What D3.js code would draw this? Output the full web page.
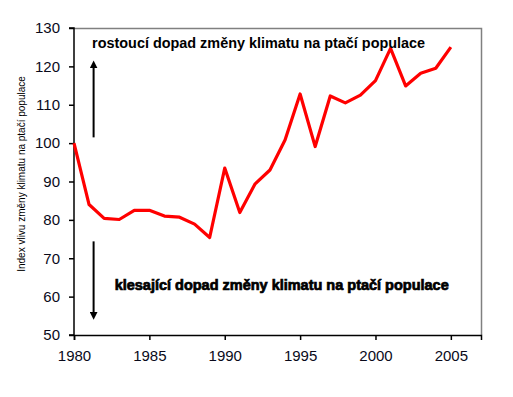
<!DOCTYPE html>
<html>
<head>
<meta charset="utf-8">
<script src="https://cdn.jsdelivr.net/npm/d3@7"></script>
<style>
body{margin:0;background:#fff;}
text{font-family:"Liberation Sans",Arial,sans-serif;}
</style>
</head>
<body>
<svg width="513" height="397"></svg>
<script>
// data
var years = [1980,1981,1982,1983,1984,1985,1986,1987,1988,1989,1990,1991,1992,1993,1994,1995,1996,1997,1998,1999,2000,2001,2002,2003,2004,2005];
var index = [100,84,80.4,80.1,82.5,82.5,81,80.7,78.9,75.4,93.5,81.9,89.3,93,100.8,112.8,99.1,112.3,110.5,112.5,116.3,124.7,114.9,118.2,119.5,125];
var xticks = [1980,1985,1990,1995,2000,2005];
var yticks = [50,60,70,80,90,100,110,120,130];
var upLabel = 'rostoucí dopad změny klimatu na ptačí populace';
var downLabel = 'klesající dopad změny klimatu na ptačí populace';
var yTitle = 'Index vlivu změny klimatu na ptačí populace';

var svg = d3.select('svg');
var margin = {left:74,top:28,right:32,bottom:62};
var width = +svg.attr('width'), height = +svg.attr('height');
var innerwidth = width - margin.left - margin.right;
var innerheight = height - margin.top - margin.bottom;

var xscale = d3.scaleLinear().domain([1980,2007]).range([0,innerwidth]);
var yscale = d3.scaleLinear().domain([50,130]).range([innerheight,0]);

var defs = svg.append('defs');
defs.append('marker').attr('id','head')
	.attr('viewBox','0 0 10 10').attr('refX',5).attr('refY',5)
	.attr('markerWidth',4).attr('markerHeight',4).attr('orient','auto')
	.append('path').attr('d','M0,0L10,5L0,10z').attr('fill','#000');

var g = svg.append('g').attr('transform',`translate(${margin.left},${margin.top})`);

// grey frame on top and right
g.append('path')
	.attr('d',`M0,0.5H${innerwidth+0.5}V${innerheight}`)
	.attr('fill','none').attr('stroke','#808080').attr('stroke-width',1.5);

var yaxis = g.append('g').call(d3.axisLeft(yscale).tickValues(yticks).tickSize(5).tickPadding(9));
var xaxis = g.append('g').attr('transform',`translate(0,${innerheight})`)
	.call(d3.axisBottom(xscale).tickValues(xticks).tickFormat(d3.format('d')).tickSize(5).tickPadding(10));
[yaxis,xaxis].forEach(a => {
	a.select('.domain').attr('stroke','#000').attr('stroke-width',1.5);
	a.selectAll('.tick line').attr('stroke','#000').attr('stroke-width',1.5);
	a.selectAll('.tick text').attr('font-size',15).attr('fill','#0a0a1a')
		.style('font-family','"Liberation Sans",Arial,sans-serif');
});
yaxis.select('.domain').attr('d',`M-5,${innerheight}H0V0H-5`);

var line = d3.line().x((d,i) => xscale(years[i])).y(d => yscale(d));
g.append('path').datum(index)
	.attr('d',line).attr('fill','none')
	.attr('stroke','#ff0000').attr('stroke-width',3.2).attr('stroke-linejoin','round');

// arrows
var ax = xscale(1981.3);
g.append('line').attr('x1',ax).attr('x2',ax)
	.attr('y1',yscale(101.5)).attr('y2',yscale(120.5))
	.attr('stroke','#000').attr('stroke-width',2).attr('marker-end','url(#head)');
g.append('line').attr('x1',ax).attr('x2',ax)
	.attr('y1',yscale(74.4)).attr('y2',yscale(55))
	.attr('stroke','#000').attr('stroke-width',2).attr('marker-end','url(#head)');

g.append('text').text(upLabel)
	.attr('x',xscale(1981.2)).attr('y',yscale(124.8))
	.attr('font-size',14).attr('font-weight','bold').attr('fill','#000')
	.attr('textLength',333).attr('lengthAdjust','spacingAndGlyphs');
g.append('text').text(downLabel)
	.attr('x',xscale(1982.7)).attr('y',yscale(61.8))
	.attr('font-size',14).attr('font-weight','bold').attr('fill','#000')
	.attr('stroke','#000').attr('stroke-width',0.7)
	.attr('textLength',334).attr('lengthAdjust','spacingAndGlyphs');

svg.append('text').text(yTitle)
	.attr('transform',`translate(25,174) rotate(-90)`)
	.attr('text-anchor','middle').attr('font-size',10).attr('fill','#000');
</script>
</body>
</html>
